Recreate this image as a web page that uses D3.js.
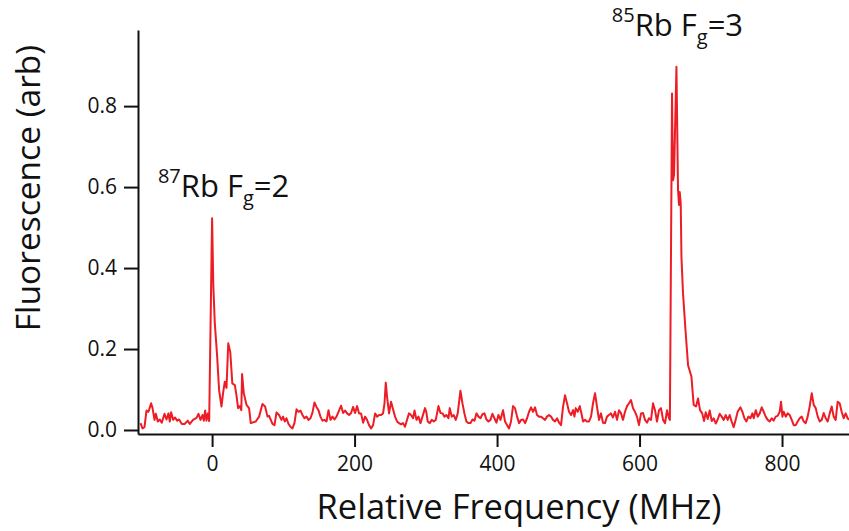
<!DOCTYPE html>
<html><head><meta charset="utf-8">
<script src="https://cdn.jsdelivr.net/npm/d3@7"></script>
<style>html,body{margin:0;padding:0;background:#fff;}svg{display:block;}</style>
</head><body>
<svg id="chart" width="849" height="531"></svg>
<script>
const freq = [
-100.5,-97.7,-94.9,-92.1,-89.3,-85.6,-83.6,-80.8,-79.0,-76.2,-73.4,-70.6,-66.8,-64.0,-61.2,-59.4,-57.5,-54.7,-51.9,-49.1,-46.3,-42.5,-38.7,-34.1,-31.3,-26.7,-21.9,-19.1,-16.3,-13.5,-11.6,-9.8,-7.9,-6.0,-4.1,
0,1.7,3.8,7.0,9.8,13.2,15.4,17.8,20.2,22.7,25.5,28.4,31.9,34.2,36.5,38.9,41.0,42.1,44.5,48.3,51.9,
54.3,61.3,66.0,70.7,74.4,77.8,80.0,84.8,87.6,90.4,94.0,97.4,
99.6,102.0,104.4,107.2,110.0,112.8,115.6,118.5,121.3,124.1,126.9,129.7,132.5,135.3,138.1,140.9,143.7,146.5,149.3,152.1,154.9,157.7,160.6,163.4,166.2,169.0,171.8,174.6,177.4,181.1,183.9,186.7,189.5,192.3,195.1,197.9,200.7,203.5,206.3,209.1,212.0,214.7,217.5,220.3,223.2,226.0,228.8,231.6,234.4,237.2,240.0,242.0,243.8,245.6,248.4,251.2,254.0,256.8,259.6,262.4,265.2,268.0,270.8,273.6,276.4,279.2,282.1,284.1,286.9,289.7,292.5,295.3,298.9,
300.6,302.7,305.5,308.4,311.2,314.0,317.7,320.6,323.4,326.2,329.0,331.8,333.6,336.4,339.2,342.0,344.8,348.6,351.4,354.2,357.0,359.9,362.7,365.5,368.3,371.1,373.9,376.7,379.5,382.3,385.1,387.9,390.7,393.5,396.3,399.1,401.9,404.8,408.4,411.2,414.0,416.8,419.6,422.4,425.2,428.1,430.9,433.7,436.5,439.3,442.1,444.9,447.7,450.5,453.3,456.1,458.9,461.7,464.5,467.3,470.1,472.9,475.8,478.6,481.4,484.2,487.0,489.8,492.6,495.4,498.2,501.0,
503.9,506.7,508.6,510.5,513.3,516.1,518.9,520.7,523.5,526.3,529.1,531.9,534.7,537.5,540.3,543.1,545.9,548.7,551.5,554.3,557.1,559.9,562.7,565.6,568.4,571.2,574.0,576.8,579.6,582.4,585.2,588.0,590.8,593.6,596.4,599.2,602.1,604.9,607.7,610.5,613.3,616.1,618.9,621.7,624.5,627.3,630.1,633.0,635.8,638.6,641.4,642.6,
645.6,647.0,648.4,651.8,654.0,655.4,656.4,657.8,658.8,661.0,664.8,668.1,672.8,676.0,679.3,682.1,684.9,688.0,690.5,692.9,695.7,698.5,701.3,704.1,706.9,
709.7,712.5,715.3,718.1,720.9,723.7,726.5,729.3,732.1,734.9,737.7,741.6,744.4,747.2,750.0,752.8,755.6,758.4,760.3,763.1,765.9,768.7,771.5,774.3,777.1,779.9,782.7,785.5,788.3,791.1,793.9,796.7,798.6,800.5,802.4,805.2,808.0,810.8,813.6,816.4,819.2,822.0,824.8,827.6,830.4,833.2,836.0,838.9,841.7,844.5,847.3,850.1,852.9,855.7,858.5,861.3,864.1,866.9,869.7,872.5,875.3,878.1,880.9,883.7,886.5,889.3,892.1,894.0
];
const fluorescence = [
0.017,0.004,0.007,0.048,0.045,0.066,0.054,0.025,0.040,0.021,0.026,0.018,0.040,0.026,0.041,0.021,0.044,0.025,0.031,0.023,0.026,0.015,0.015,0.023,0.015,0.025,0.030,0.040,0.025,0.037,0.023,0.048,0.023,0.041,0.022,
0.523,0.358,0.264,0.185,0.099,0.058,0.091,0.119,0.104,0.214,0.193,0.115,0.111,0.086,0.054,0.059,0.049,0.138,0.091,0.062,0.054,
0.017,0.021,0.033,0.064,0.058,0.033,0.035,0.015,0.012,0.043,0.037,0.025,
0.033,0.021,0.029,0.015,0.008,0.004,0.017,0.051,0.045,0.048,0.037,0.029,0.033,0.025,0.029,0.043,0.068,0.057,0.049,0.033,0.023,0.025,0.021,0.049,0.025,0.033,0.026,0.033,0.045,0.060,0.042,0.048,0.041,0.037,0.042,0.057,0.042,0.059,0.041,0.041,0.018,0.033,0.025,0.012,0.004,0.012,0.041,0.033,0.037,0.037,0.041,0.066,0.117,0.082,0.041,0.070,0.051,0.033,0.021,0.017,0.014,0.017,0.008,0.025,0.041,0.037,0.029,0.048,0.025,0.033,0.017,0.033,0.054,
0.045,0.021,0.017,0.025,0.021,0.025,0.059,0.042,0.041,0.033,0.037,0.029,0.054,0.033,0.037,0.025,0.041,0.097,0.066,0.041,0.021,0.017,0.017,0.026,0.023,0.041,0.033,0.029,0.039,0.041,0.026,0.021,0.025,0.040,0.029,0.018,0.037,0.025,0.049,0.021,0.012,0.004,0.021,0.059,0.054,0.033,0.017,0.025,0.026,0.017,0.029,0.045,0.056,0.045,0.056,0.037,0.033,0.033,0.029,0.025,0.033,0.037,0.033,0.025,0.021,0.029,0.018,0.012,0.057,0.086,0.066,0.045,
0.037,0.049,0.033,0.054,0.045,0.059,0.037,0.021,0.025,0.021,0.021,0.033,0.066,0.091,0.057,0.025,0.041,0.018,0.017,0.033,0.037,0.041,0.031,0.045,0.025,0.049,0.041,0.025,0.045,0.059,0.066,0.074,0.054,0.045,0.033,0.012,0.041,0.042,0.025,0.018,0.029,0.025,0.066,0.049,0.021,0.049,0.054,0.025,0.017,0.049,0.029,0.025,
0.831,0.617,0.630,0.897,0.593,0.556,0.588,0.560,0.428,0.338,0.239,0.160,0.132,0.062,0.058,0.078,0.049,0.041,0.022,0.044,0.027,0.048,0.022,0.029,0.016,
0.026,0.040,0.033,0.025,0.037,0.025,0.037,0.021,0.007,0.025,0.045,0.056,0.045,0.029,0.021,0.033,0.029,0.041,0.029,0.049,0.033,0.041,0.056,0.045,0.033,0.025,0.021,0.029,0.023,0.033,0.035,0.045,0.070,0.033,0.045,0.033,0.041,0.037,0.025,0.012,0.012,0.021,0.029,0.033,0.021,0.017,0.033,0.059,0.091,0.062,0.054,0.033,0.021,0.025,0.042,0.029,0.021,0.041,0.058,0.033,0.025,0.070,0.066,0.045,0.029,0.041,0.029,0.025
];
const xTicks = [0, 200, 400, 600, 800];
const yTicks = [0.0, 0.2, 0.4, 0.6, 0.8];
const xTitle = "Relative Frequency (MHz)";
const yTitle = "Fluorescence (arb)";
const peakLabels = [
  {iso: "87", name: "Rb F", sub: "g", rest: "=2", f: -76, v: 0.575},
  {iso: "85", name: "Rb F", sub: "g", rest: "=3", f: 561, v: 0.972}
];

const svg = d3.select("#chart");
const FONT = "'Open Sans', 'Noto Sans', sans-serif";
const ink = "#111";
const x = d3.scaleLinear().domain([-104, 894]).range([138, 849]);
const y = d3.scaleLinear().domain([-0.0099, 0.988]).range([434, 30]);

const data = freq.map((f, i) => ({f, v: fluorescence[i]}));

const line = d3.line().x(d => x(d.f)).y(d => y(d.v));
svg.append("path").datum(data)
  .attr("d", line).attr("fill", "none")
  .attr("stroke", "#ee1d25").attr("stroke-width", 2)
  .attr("stroke-linejoin", "round");

const gx = svg.append("g").attr("transform", `translate(0,${y.range()[0]})`)
  .call(d3.axisBottom(x).tickValues(xTicks).tickSize(13).tickSizeOuter(0).tickPadding(9).tickFormat(d3.format("d")));
const gy = svg.append("g").attr("transform", `translate(${x.range()[0]},0)`)
  .call(d3.axisLeft(y).tickValues(yTicks).tickSize(14).tickSizeOuter(0).tickPadding(7).tickFormat(d3.format(".1f")));
[gx, gy].forEach(g => {
  g.select(".domain").attr("stroke", ink).attr("stroke-width", 2);
  g.selectAll(".tick line").attr("stroke", ink).attr("stroke-width", 2);
  g.selectAll(".tick text").attr("fill", ink).style("font-family", FONT).style("font-size", "21px");
});

svg.append("text").attr("x", 519).attr("y", 519).attr("text-anchor", "middle")
  .style("font-family", FONT).style("font-size", "34.5px").attr("fill", ink).text(xTitle);
svg.append("text").attr("transform", `translate(40,188) rotate(-90)`).attr("text-anchor", "middle")
  .style("font-family", FONT).style("font-size", "33.5px").attr("fill", ink).text(yTitle);

peakLabels.forEach(p => {
  const t = svg.append("text").attr("x", x(p.f)).attr("y", y(p.v))
    .style("font-family", FONT).style("font-size", "31px").attr("fill", ink);
  t.append("tspan").attr("dy", -14).style("font-size", "20px").text(p.iso);
  t.append("tspan").attr("dy", 14).text(p.name);
  t.append("tspan").attr("dy", 8).style("font-size", "20px").text(p.sub);
  t.append("tspan").attr("dy", -8).text(p.rest);
});
</script>
</body></html>
